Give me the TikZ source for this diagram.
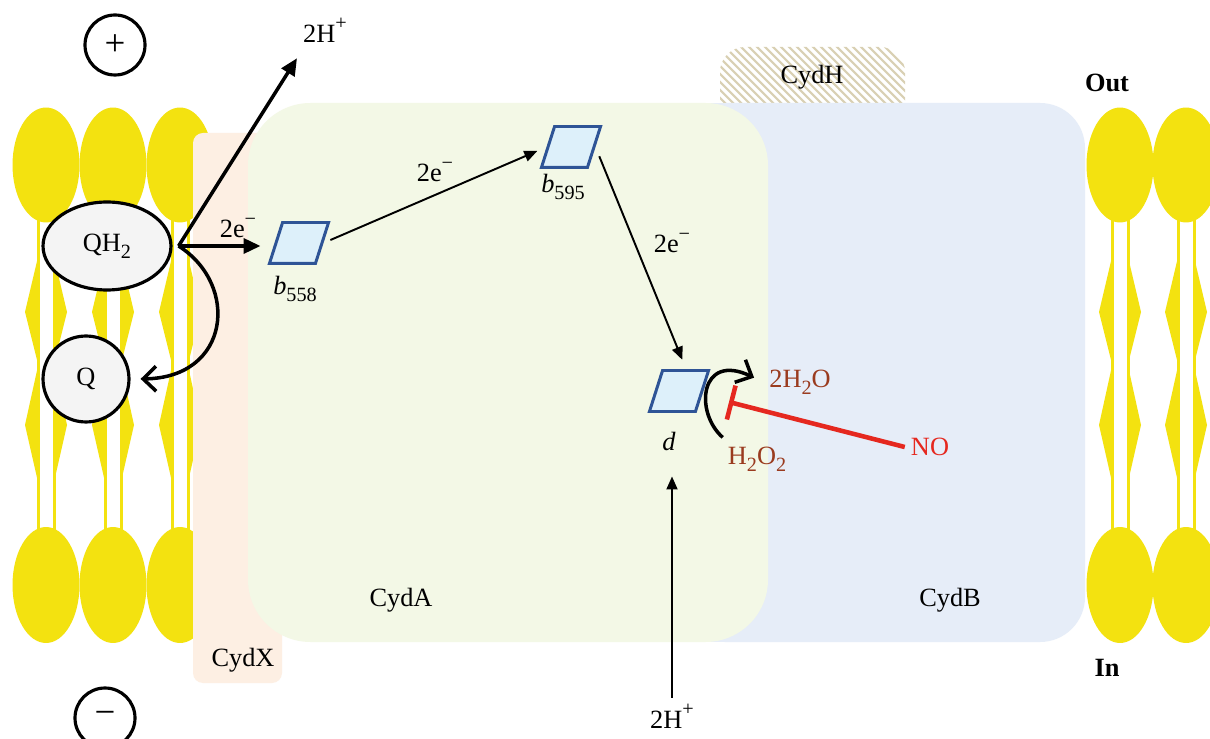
\documentclass[tikz,border=0pt]{standalone}
\usepackage{fontspec}
\setmainfont{Liberation Serif}
\usetikzlibrary{arrows.meta,shapes.geometric,positioning}

\definecolor{lipidyellow}{HTML}{F3E210}
\definecolor{cydXfill}{HTML}{FDEFE3}
\definecolor{cydAfill}{HTML}{F3F8E6}
\definecolor{cydBfill}{HTML}{E6EDF8}
\definecolor{hatchtan}{HTML}{D9D0B3}
\definecolor{cytoblue}{HTML}{2E5496}
\definecolor{cytofill}{HTML}{DDF0FA}
\definecolor{quinfill}{HTML}{F4F4F4}
\definecolor{waterred}{HTML}{9A3B1F}
\definecolor{nored}{HTML}{E5281F}

\tikzset{
	lipid/.style={fill=lipidyellow},
	cyto/.style={rectangle, xslant=0.32, transform shape, minimum width=0.92cm, minimum height=0.82cm,
		inner sep=0pt, draw=cytoblue, fill=cytofill, line width=1.7pt},
	quinone/.style={ellipse, draw, fill=quinfill, line width=1.8pt, inner sep=0pt},
	charge/.style={circle, draw, line width=1.8pt, minimum size=1.2cm, inner sep=0pt, font=\fontsize{21}{21}\selectfont},
	thickarrow/.style={line width=2pt, -{Triangle[length=0.34cm, width=0.3cm]}},
	openarrow/.style={line width=2pt, -{Straight Barb[length=0.26cm, width=0.5cm]}},
	thinarrow/.style={line width=1.1pt, -{Triangle[length=0.26cm, width=0.22cm]}},
	inhibit/.style={draw=nored, line width=2.6pt, -{Bar[width=0.7cm]}}
}

% sub- and superscripts a bit larger than the default
\def\sub#1{\raisebox{-0.28em}{\fontsize{11.5}{12}\selectfont #1}}
\def\sup#1{\raisebox{0.48em}{\fontsize{11.5}{12}\selectfont #1}}

% one phospholipid: heads at both leaflets, two tails in between
\def\lipid(#1){
	\fill[lipid] (#1-9.5,215) rectangle (#1-6.5,535);
	\fill[lipid] (#1+6.5,215) rectangle (#1+9.5,535);
	\fill[lipid] (#1-8,257) -- (#1-21,312) -- (#1-8,364) -- cycle;
	\fill[lipid] (#1+8,257) -- (#1+21,312) -- (#1+8,364) -- cycle;
	\fill[lipid] (#1-8,366) -- (#1-21,425) -- (#1-8,482) -- cycle;
	\fill[lipid] (#1+8,366) -- (#1+21,425) -- (#1+8,482) -- cycle;
	\fill[lipid] (#1,165) ellipse [x radius=0.67cm, y radius=1.15cm];
	\fill[lipid] (#1,585) ellipse [x radius=0.67cm, y radius=1.16cm];
}

\begin{document}
\begin{tikzpicture}[x=0.02cm, y=-0.02cm, font=\fontsize{15}{18}\selectfont]
		%%%%% START %%%%%
		\clip (0,0) rectangle (1210,739);
		\fill[white] (0,0) rectangle (1210,739);
		
		% membrane
		\lipid(46) \lipid(113) \lipid(180)
		\lipid(1120) \lipid(1186)
		
		% CydH, hatched
		\begin{scope}
			\clip[rounded corners=0.5cm] (720,47) rectangle (905,130);
			\foreach \s in {630,638,...,910}
				\draw[hatchtan, line width=1.2pt] (\s,40) -- (\s+90,130);
		\end{scope}
		
		% subunits
		\fill[cydBfill, rounded corners=0.9cm] (680,103) rectangle (1085,642);
		\fill[cydBfill] (680,103) rectangle (740,642);
		\fill[cydXfill, rounded corners=0.2cm] (193,133) rectangle (282,683);
		\fill[cydAfill, rounded corners=1.25cm] (248,103) rectangle (768,642);
		
		\node (cydA) at (401,600) {CydA};
		\node (cydB) at (950,600) {CydB};
		\node (cydX) at (243,660) {CydX};
		\node (cydH) at (812,77) {CydH};
		
		\node[font=\fontsize{15}{18}\selectfont\bfseries] (outlab) at (1107,83) {Out};
		\node[font=\fontsize{15}{18}\selectfont\bfseries] (inlab) at (1107,668) {In};
		
		\node[charge] (plus) at (115,45) {+};
		\node[charge] (minus) at (105,718) {−};
		
		% hemes
		\node[cyto] (b558) at (299,243) {};
		\node[cyto] (b595) at (571,147) {};
		\node[cyto] (d) at (679,391) {};
		\node (b558lab) at (295,289) {\textit{b}\sub{558}};
		\node (b595lab) at (563,187) {\textit{b}\sub{595}};
		\node (dlab) at (669,441) {\textit{d}};
		
		% quinol / quinone
		\node[quinone, minimum width=2.56cm, minimum height=1.76cm] (qh2) at (107,246) {QH\sub{2}};
		\node[quinone, minimum width=1.72cm, minimum height=1.72cm] (q) at (86,379) {Q};
		
		\node (hout) at (325,30) {2H\sup{+}};
		\node (hin) at (672,716) {2H\sup{+}};
		\node (e1) at (238,228) {2e\sup{−}};
		\node (e2) at (435,172) {2e\sup{−}};
		\node (e3) at (672,243) {2e\sup{−}};
		\node[text=waterred] (h2o) at (800,382) {2H\sub{2}O};
		\node[text=waterred] (h2o2) at (757,459) {H\sub{2}O\sub{2}};
		\node[text=nored] (no) at (930,447) {NO};
		
		% arrows
		\coordinate (fork) at ([xshift=0.12cm]qh2.east);
		\draw[thickarrow] (fork) -- ([yshift=-0.2cm]hout.south west);
		\draw[thickarrow, shorten >=0.28cm] (fork) -- (fork -| b558.west);
		\draw[openarrow, shorten >=0.2cm] (fork) .. controls (240,285) and (230,378) .. (q.east);
		
		\draw[thinarrow, shorten <=0.15cm, shorten >=0.2cm] (b558.east) -- (b595.west);
		\draw[thinarrow, shorten <=0.2cm, shorten >=0.2cm] (b595.east) -- (d.north);
		\draw[thinarrow] (hin.north) -- ([yshift=-0.4cm]dlab.south -| hin.north);
		
		\draw[openarrow, shorten >=0.2cm] ([xshift=0.02cm, yshift=0.06cm]h2o2.north west) .. controls (694,412) and (700,352) .. (h2o.west);
		\coordinate (block) at (729,402);
		\draw[inhibit] (no.west) -- (block);
		
		%%%%% END %%%%%
\end{tikzpicture}
\end{document}
